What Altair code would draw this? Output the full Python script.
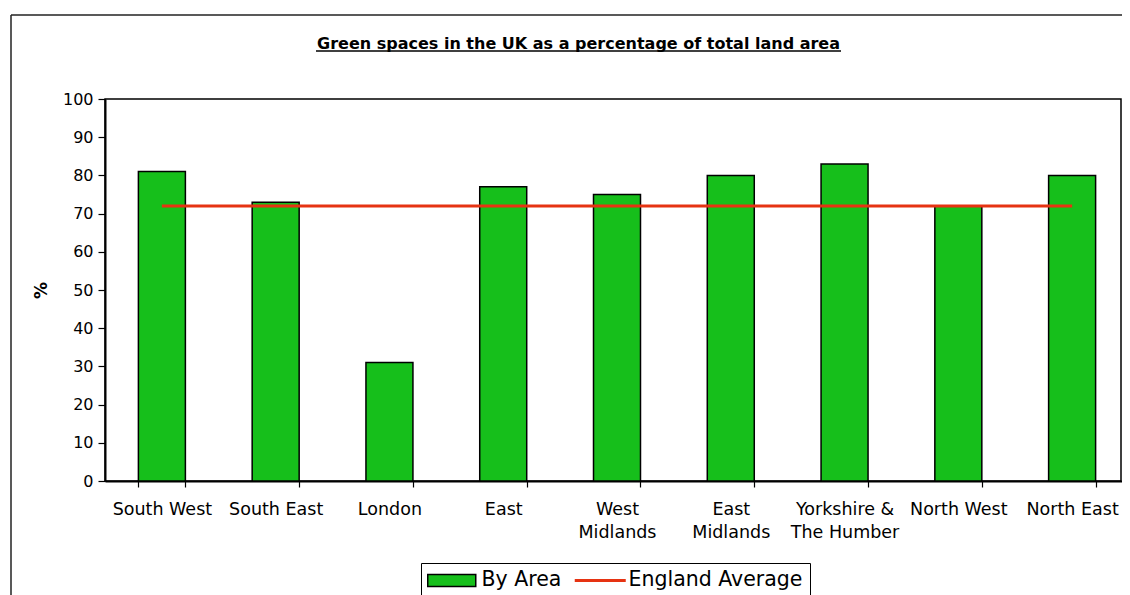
import altair as alt
import pandas as pd

# ---- data ----
regions = ["South West", "South East", "London", "East", "West\nMidlands",
           "East\nMidlands", "Yorkshire &\nThe Humber", "North West", "North East"]
by_area = [81, 73, 31, 77, 75, 80, 83, 72, 80]
england_average = [72, 72, 72, 72, 72, 72, 72, 72, 72]
series_names = ["By Area", "England Average"]
y_ticks = [0, 10, 20, 30, 40, 50, 60, 70, 80, 90, 100]
title_text = "Green spaces in the UK as a percentage of total land area"
y_title = "%"

GREEN = "#16bf1b"
RED = "#e63312"
FONT = "DejaVu Sans"
W, H = 1016, 382          # drawable plot area (page limits the right side)
X_RANGE = 1024            # category axis length as in the reference

df = pd.DataFrame({"region": regions, "by_area": by_area, "england": england_average})
legend_df = pd.DataFrame({"series": series_names})

x_scale = alt.Scale(paddingInner=0.587, paddingOuter=0.2935, range=[0, X_RANGE])
x_axis = alt.Axis(
    labelExpr="split(datum.label, '\\n')", labelAngle=0, labelFont=FONT,
    labelFontSize=17.5, labelColor="black", labelLineHeight=23, labelPadding=13,
    labelOverlap=False, labelLimit=300, tickBand="extent", tickSize=6,
    tickColor="black", tickWidth=1.2, domainColor="black", domainWidth=2,
    grid=False, title=None,
)
y_scale = alt.Scale(domain=[0, 100], nice=False, zero=True)
y_axis = alt.Axis(
    values=y_ticks, tickSize=7, tickColor="black", tickWidth=1.2, labelPadding=5,
    labelFont=FONT, labelFontSize=16, labelColor="black", domainColor="black",
    domainWidth=2, grid=False, title=y_title, titleFont=FONT, titleFontSize=17,
    titleFontWeight="bold", titleColor="black", titlePadding=12,
)

bars = alt.Chart(df).mark_bar(color=GREEN, stroke="black", strokeWidth=1.5).encode(
    x=alt.X("region:N", sort=regions, scale=x_scale, axis=x_axis),
    y=alt.Y("by_area:Q", scale=y_scale, axis=y_axis),
)
line = alt.Chart(df).mark_line(color=RED, strokeWidth=3).encode(
    x=alt.X("region:N", sort=regions, scale=x_scale, axis=x_axis),
    y=alt.Y("england:Q", scale=y_scale, axis=y_axis),
)

rect_path = "M-1.75,-1H6.25V1H-1.75Z"
line_path = "M-1.75,-0.25H6.75V0.25H-1.75Z"
legend_obj = alt.Legend(
    orient="none", legendX=316, legendY=464, direction="horizontal", title=None,
    strokeColor="black", fillColor="white", padding=7, labelFont=FONT,
    labelFontSize=20.5, labelColor="black", labelLimit=300, symbolSize=144,
    symbolStrokeWidth=1.5, labelOffset=33, columnPadding=9,
)
legend_layer = alt.Chart(legend_df).transform_filter("false").mark_point(
    filled=True, opacity=1
).encode(
    fill=alt.Fill("series:N", scale=alt.Scale(domain=series_names, range=[GREEN, RED]), legend=legend_obj),
    stroke=alt.Stroke("series:N", scale=alt.Scale(domain=series_names, range=["black", "transparent"]), legend=legend_obj),
    shape=alt.Shape("series:N", scale=alt.Scale(domain=series_names, range=[rect_path, line_path]), legend=legend_obj),
)

one = alt.Data(values=[{"k": 1}])
border_left = alt.Chart(one).mark_rule(color="#222222", strokeWidth=1.5).encode(
    x=alt.value(-94), y=alt.value(-84), y2=alt.value(600))
border_top = alt.Chart(one).mark_rule(color="#222222", strokeWidth=1.5).encode(
    x=alt.value(-94), x2=alt.value(1100), y=alt.value(-84))
underline = alt.Chart(one).mark_rule(color="black", strokeWidth=1.5).encode(
    x=alt.value(211), x2=alt.value(736), y=alt.value(-48))

chart = alt.layer(border_left, border_top, underline, bars, line, legend_layer).properties(
    width=W, height=H,
    title=alt.TitleParams(text=title_text, font=FONT, fontSize=16, fontWeight="bold",
                          color="black", anchor="middle", frame="group", dx=-34.5, offset=-38),
    autosize=alt.AutoSizeParams(type="none"),
    padding={"left": 97, "top": 91, "right": 1, "bottom": 114},
).configure_view(stroke="black", strokeWidth=1.5)

chart.save("out.html", embed_options={"renderer": "svg", "actions": False})
